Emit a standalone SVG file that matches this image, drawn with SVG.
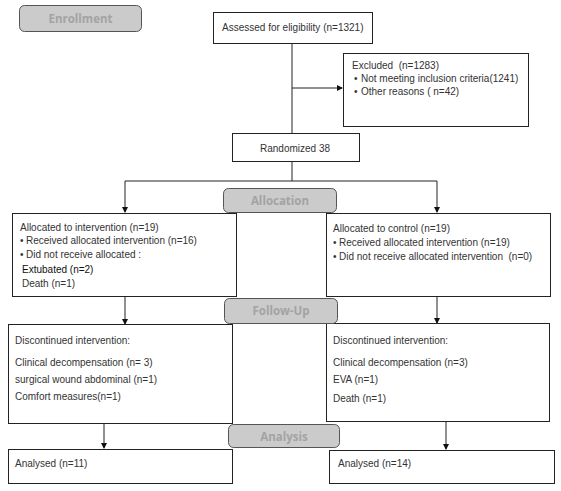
<svg xmlns="http://www.w3.org/2000/svg" width="561" height="491" viewBox="0 0 561 491">
<defs>
<marker id="ah" markerWidth="6" markerHeight="6" refX="5" refY="3" orient="auto" markerUnits="userSpaceOnUse">
<path d="M0,0 L6,3 L0,6 Z" fill="#111"/>
</marker>
<style>
.box{fill:#fff;stroke:#222;stroke-width:1}
.hdr{fill:#cbcbcb;stroke:#555;stroke-width:1}
.ht{font-family:"Open Sans","DejaVu Sans",sans-serif;font-weight:bold;font-size:11.5px;fill:#a3a3a3;text-anchor:middle}
.t{font-family:"Liberation Sans",Arial,sans-serif;font-size:10px;fill:#333;white-space:pre}
.tk{font-family:"Liberation Sans",Arial,sans-serif;font-size:10px;fill:#111}
.ln{fill:none;stroke:#222;stroke-width:1}
</style>
</defs>
<rect width="561" height="491" fill="#fff"/>
<g id="connectors">
<path class="ln" d="M292,43 V133"/>
<path class="ln" d="M292,88 H342" marker-end="url(#ah)"/>
<path class="ln" d="M292,161 V181"/>
<path class="ln" d="M125,181 H437"/>
<path class="ln" d="M125,181 V212" marker-end="url(#ah)"/>
<path class="ln" d="M437,181 V212" marker-end="url(#ah)"/>
<path class="ln" d="M125,296 V324" marker-end="url(#ah)"/>
<path class="ln" d="M437,296 V323" marker-end="url(#ah)"/>
<path class="ln" d="M104,423 V448" marker-end="url(#ah)"/>
<path class="ln" d="M446,421 V449" marker-end="url(#ah)"/>
</g>
<g id="enrollment">
<rect class="hdr" x="19.5" y="5.5" width="122" height="26" rx="5"/>
<text class="ht" x="80.5" y="23">Enrollment</text>
</g>
<g id="assessed">
<rect class="box" x="213.5" y="12.5" width="159" height="31"/>
<text class="t" x="222" y="31">Assessed for eligibility (n=1321)</text>
</g>
<g id="excluded">
<rect class="box" x="343.5" y="53.5" width="185" height="73"/>
<text class="t" x="352" y="69" xml:space="preserve">Excluded  (n=1283)</text>
<text class="t" x="354" y="82">• <tspan x="361">Not meeting inclusion criteria(1241)</tspan></text>
<text class="t" x="354" y="95">• <tspan x="361">Other reasons ( n=42)</tspan></text>
</g>
<g id="randomized">
<rect class="box" x="232.5" y="133.5" width="127" height="28"/>
<text class="t" x="260" y="152">Randomized 38</text>
</g>
<g id="alloc-left">
<rect class="box" x="12.5" y="213.5" width="224" height="83"/>
<text class="t" x="20" y="231">Allocated to intervention (n=19)</text>
<text class="t" x="20" y="244">• <tspan x="26">Received allocated intervention (n=16)</tspan></text>
<text class="t" x="20" y="258">• <tspan x="26">Did not receive allocated :</tspan></text>
<text class="tk" x="22" y="273">Extubated (n=2)</text>
<text class="t" x="22" y="287">Death (n=1)</text>
</g>
<g id="alloc-right">
<rect class="box" x="326.5" y="213.5" width="224" height="83"/>
<text class="t" x="333" y="232">Allocated to control (n=19)</text>
<text class="t" x="333" y="246">• <tspan x="339">Received allocated intervention (n=19)</tspan></text>
<text class="t" x="333" y="260" xml:space="preserve">• <tspan x="339">Did not receive allocated intervention  (n=0)</tspan></text>
</g>
<g id="allocation">
<rect class="hdr" x="223.5" y="188.5" width="113" height="24" rx="5"/>
<text class="ht" x="280" y="205">Allocation</text>
</g>
<g id="follow-left">
<rect class="box" x="8.5" y="324.5" width="224" height="99"/>
<text class="t" x="15" y="344">Discontinued intervention:</text>
<text class="t" x="15" y="366">Clinical decompensation (n= 3)</text>
<text class="t" x="15" y="383">surgical wound abdominal (n=1)</text>
<text class="t" x="15" y="400">Comfort measures(n=1)</text>
</g>
<g id="follow-right">
<rect class="box" x="326.5" y="323.5" width="223" height="98"/>
<text class="t" x="333" y="344">Discontinued intervention:</text>
<text class="t" x="333" y="366">Clinical decompensation (n=3)</text>
<text class="t" x="333" y="383">EVA (n=1)</text>
<text class="t" x="333" y="402">Death (n=1)</text>
</g>
<g id="followup">
<rect class="hdr" x="224.5" y="298.5" width="113" height="25" rx="5"/>
<text class="ht" x="281" y="315">Follow-Up</text>
</g>
<g id="analysis">
<rect class="hdr" x="228.5" y="424.5" width="111" height="23" rx="5"/>
<text class="ht" x="284" y="441">Analysis</text>
</g>
<g id="analysed-left">
<rect class="box" x="8.5" y="449.5" width="224" height="34"/>
<text class="t" x="15" y="467">Analysed (n=11)</text>
</g>
<g id="analysed-right">
<rect class="box" x="329.5" y="450.5" width="225" height="33"/>
<text class="t" x="338" y="467">Analysed (n=14)</text>
</g>
</svg>
